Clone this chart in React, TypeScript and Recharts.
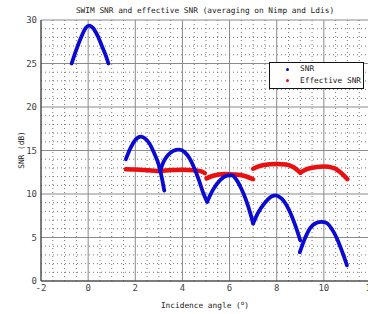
import { LineChart, Line, XAxis, YAxis, CartesianGrid, ReferenceLine } from 'recharts'

// SNR lobes (blue) as [angle, dB]
const snrLobe1 = [[-0.7, 25.0], [-0.5, 26.6], [-0.3, 28.0], [-0.1, 29.1], [0.05, 29.35], [0.2, 29.1], [0.4, 28.2], [0.6, 26.9], [0.75, 25.9], [0.86, 25.0]]
const snrLobe2 = [[1.6, 14.0], [1.8, 15.3], [2.0, 16.2], [2.23, 16.6], [2.4, 16.4], [2.6, 15.8], [2.8, 14.7], [3.0, 13.3], [3.1, 12.2], [3.23, 10.4]]
const snrLobe3 = [[3.05, 12.6], [3.2, 13.7], [3.4, 14.5], [3.6, 14.95], [3.86, 15.1], [4.1, 14.8], [4.3, 14.1], [4.5, 13.0], [4.7, 11.6], [4.9, 10.0], [5.05, 9.1]]
const snrLobe4 = [[5.05, 9.1], [5.3, 10.5], [5.6, 11.6], [5.9, 12.1], [6.1, 12.15], [6.3, 11.6], [6.5, 10.6], [6.7, 9.3], [6.9, 7.6], [7.0, 6.6]]
const snrLobe5 = [[7.0, 6.6], [7.2, 7.8], [7.5, 9.0], [7.8, 9.75], [7.95, 9.85], [8.2, 9.5], [8.5, 8.3], [8.8, 6.3], [9.0, 4.65]]
const snrLobe6 = [[8.98, 3.3], [9.2, 4.9], [9.4, 6.0], [9.7, 6.7], [9.9, 6.8], [10.1, 6.7], [10.4, 5.7], [10.6, 4.6], [10.8, 3.2], [10.98, 1.8]]

// effective SNR (red)
const effSeg1 = [[1.6, 12.85], [2.2, 12.8], [3.0, 12.65], [3.5, 12.75], [4.0, 12.8], [4.5, 12.72], [4.8, 12.6], [4.95, 12.4]]
const effSeg2 = [[5.02, 11.8], [5.3, 12.1], [5.8, 12.3], [6.2, 12.25], [6.6, 12.1], [7.0, 11.7]]
const effSeg3 = [[7.0, 12.9], [7.4, 13.3], [8.0, 13.45], [8.4, 13.4], [8.7, 13.1], [9.0, 12.45]]
const effSeg4 = [[9.0, 12.45], [9.3, 12.9], [9.7, 13.1], [10.0, 13.15], [10.4, 13.0], [10.7, 12.5], [11.0, 11.7]]

const xTicks = [-2, 0, 2, 4, 6, 8, 10, 12]
const yTicks = [0, 5, 10, 15, 20, 25, 30]
const xMinor = [-1.5, -1, -0.5, 0.5, 1, 1.5, 2.5, 3, 3.5, 4.5, 5, 5.5, 6.5, 7, 7.5, 8.5, 9, 9.5, 10.5, 11, 11.5]
const yMinor = [1, 2, 3, 4, 6, 7, 8, 9, 11, 12, 13, 14, 16, 17, 18, 19, 21, 22, 23, 24, 26, 27, 28, 29]

const snrSegments = [snrLobe1, snrLobe2, snrLobe3, snrLobe4, snrLobe5, snrLobe6]
const effSegments = [effSeg1, effSeg2, effSeg3, effSeg4]

const toPts = (seg: number[][]) => seg.map(([x, y]) => ({ x, y }))

const FONT = '"DejaVu Sans Mono", monospace'

function XLabel({ viewBox }: any) {
  const cx = viewBox.x + viewBox.width / 2 - 1
  return (
    <text x={cx} y={viewBox.y + 27} textAnchor="middle" fontSize={7.8} fontFamily={FONT} fill="#222">
      Incidence angle (<tspan dy={-3} fontSize={6}>o</tspan><tspan dy={3}>)</tspan>
    </text>
  )
}

function YLabel() {
  return (
    <text x={24} y={150} transform="rotate(-90 24 150)" textAnchor="middle" fontSize={7.8} fontFamily={FONT} fill="#222">
      SNR (dB)
    </text>
  )
}

export default function App() {
  return (
    <div style={{ position: 'absolute', left: 0, top: 0, width: 368, height: 314, overflow: 'hidden', background: '#fff', fontFamily: FONT }}>
      <div style={{ position: 'absolute', left: 0, width: 410, top: 6, textAlign: 'center', fontSize: 7.8, color: '#222', whiteSpace: 'nowrap' }}>
        SWIM SNR and effective SNR (averaging on Nimp and Ldis)
      </div>
      <LineChart width={380} height={314} margin={{ top: 20, right: 9, bottom: 3, left: 8 }}>
        <CartesianGrid stroke="#8a8a8a" strokeWidth={1} />
        {xMinor.map((v) => (
          <ReferenceLine key={'vx' + v} x={v} stroke="#777" strokeDasharray="1 3" />
        ))}
        {yMinor.map((v) => (
          <ReferenceLine key={'hy' + v} y={v} stroke="#777" strokeDasharray="1 3" />
        ))}
        <XAxis
          type="number"
          dataKey="x"
          domain={[-2, 12]}
          ticks={xTicks}
          allowDataOverflow
          height={30}
          tickLine={false}
          tickSize={0}
          tickMargin={4}
          axisLine={{ stroke: '#333' }}
          tick={{ fontSize: 9, fill: '#444', fontFamily: FONT }}
          label={<XLabel />}
        />
        <YAxis
          type="number"
          dataKey="y"
          domain={[0, 30]}
          ticks={yTicks}
          allowDataOverflow
          width={33}
          tickLine={false}
          tickSize={0}
          tickMargin={4}
          axisLine={{ stroke: '#333' }}
          tick={{ fontSize: 9, fill: '#444', fontFamily: FONT }}
          label={<YLabel />}
        />
        {effSegments.map((seg, i) => (
          <Line
            key={'eff' + i}
            data={toPts(seg)}
            dataKey="y"
            type="monotone"
            stroke="#e81010"
            strokeWidth={4.5}
            strokeLinecap="round"
            dot={false}
            isAnimationActive={false}
          />
        ))}
        {snrSegments.map((seg, i) => (
          <Line
            key={'snr' + i}
            data={toPts(seg)}
            dataKey="y"
            type="monotone"
            stroke="#0a0ad2"
            strokeWidth={3.8}
            strokeLinecap="round"
            dot={false}
            isAnimationActive={false}
          />
        ))}
      </LineChart>
      <div
        style={{
          position: 'absolute', left: 269, top: 62, width: 93, height: 25,
          border: '1px solid #111', background: '#fff', fontSize: 7.8, color: '#222',
        }}
      >
        <div style={{ position: 'absolute', left: 16, top: 5, width: 3, height: 3, borderRadius: 2, background: '#0a0ad2' }} />
        <div style={{ position: 'absolute', left: 30, top: 1, lineHeight: '10px' }}>SNR</div>
        <div style={{ position: 'absolute', left: 16, top: 16, width: 3, height: 3, borderRadius: 2, background: '#e81010' }} />
        <div style={{ position: 'absolute', left: 30, top: 13, lineHeight: '10px' }}>Effective SNR</div>
      </div>
    </div>
  )
}
